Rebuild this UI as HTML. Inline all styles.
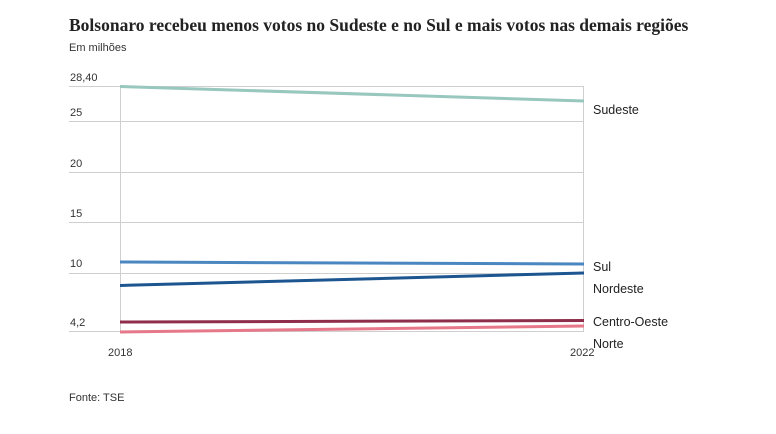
<!DOCTYPE html>
<html><head><meta charset="utf-8"><style>
body{margin:0;background:#fff;width:776px;height:429px;overflow:hidden}
</style></head><body>
<svg width="776" height="429" xmlns="http://www.w3.org/2000/svg" font-family="Liberation Sans, DejaVu Sans, sans-serif">
<text x="69" y="31" font-family="Liberation Serif, serif" font-weight="bold" font-size="17.5" fill="#222">Bolsonaro recebeu menos votos no Sudeste e no Sul e mais votos nas demais regiões</text>
<text x="69" y="51" font-size="11" fill="#333">Em milhões</text>
<g stroke="#cfcfcf" stroke-width="1">
<line x1="69" y1="86.5" x2="583" y2="86.5"/>
<line x1="69" y1="121.5" x2="583" y2="121.5"/>
<line x1="69" y1="172.5" x2="583" y2="172.5"/>
<line x1="69" y1="222.5" x2="583" y2="222.5"/>
<line x1="69" y1="273.5" x2="583" y2="273.5"/>
<line x1="69" y1="331.5" x2="583" y2="331.5"/>
<line x1="120.5" y1="86" x2="120.5" y2="332"/>
<line x1="583.5" y1="86" x2="583.5" y2="332"/>
</g>
<g font-size="11" fill="#333">
<text x="70" y="81">28,40</text>
<text x="70" y="116">25</text>
<text x="70" y="167">20</text>
<text x="70" y="217">15</text>
<text x="70" y="267">10</text>
<text x="70" y="326">4,2</text>
<text x="108" y="356">2018</text>
<text x="570" y="356">2022</text>
</g>
<g stroke-width="3" fill="none">
<line x1="120" y1="86.5" x2="584" y2="101" stroke="#97c7bd"/>
<line x1="120" y1="262" x2="584" y2="264" stroke="#4a86c0"/>
<line x1="120" y1="285.5" x2="584" y2="273" stroke="#1c558f"/>
<line x1="120" y1="322" x2="584" y2="320.5" stroke="#8e2e4a"/>
<line x1="120" y1="332" x2="584" y2="326" stroke="#e6788a"/>
</g>
<g font-size="12.5" fill="#222">
<text x="593" y="114">Sudeste</text>
<text x="593" y="271">Sul</text>
<text x="593" y="293">Nordeste</text>
<text x="593" y="326">Centro-Oeste</text>
<text x="593" y="348">Norte</text>
</g>
<text x="69" y="401" font-size="11" fill="#333">Fonte: TSE</text>
</svg>
</body></html>
